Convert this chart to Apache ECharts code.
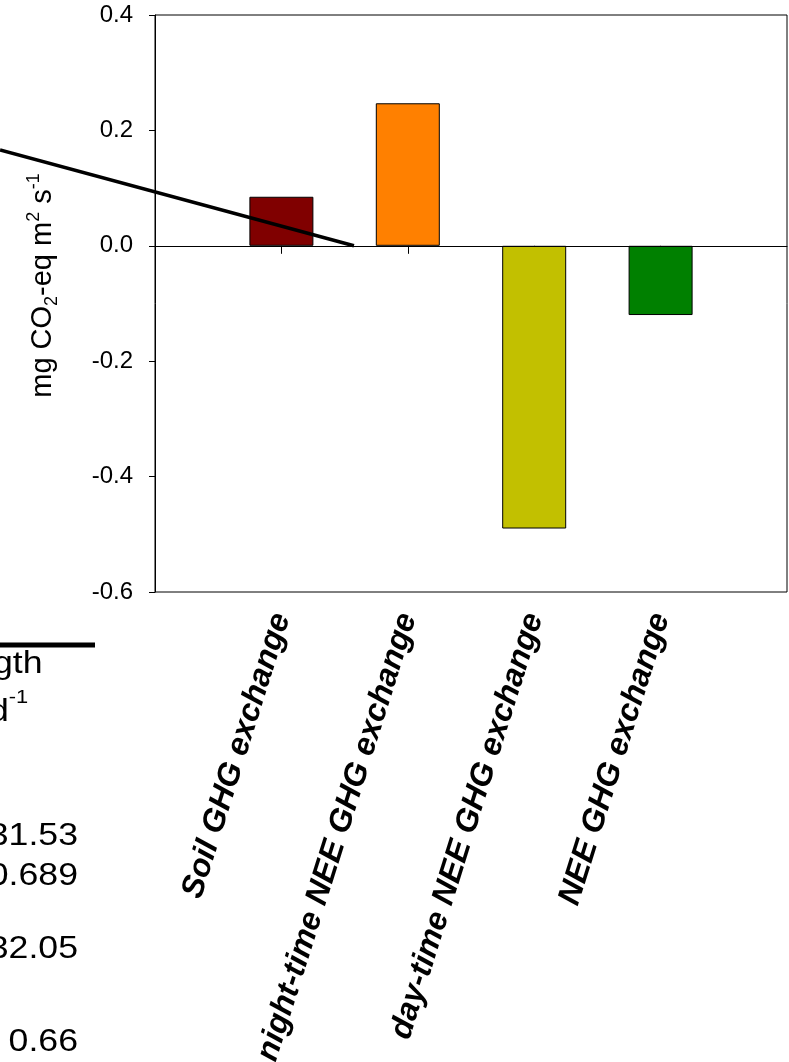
<!DOCTYPE html>
<html>
<head>
<meta charset="utf-8">
<script src="https://cdn.jsdelivr.net/npm/echarts@6/dist/echarts.min.js"></script>
<style>
  html, body { margin: 0; padding: 0; background: #fff; }
  #chart { width: 789px; height: 1062px; }
</style>
</head>
<body>
<div id="chart"></div>
<script>
// Flux components and their mean exchange (mg CO2-eq m-2 s-1)
const categories = ['Soil GHG exchange', 'night-time NEE GHG exchange', 'day-time NEE GHG exchange', 'NEE GHG exchange'];
const fluxValues = [0.085, 0.247, -0.49, -0.12];
const barColors = ['#800000', '#FF8000', '#C2C000', '#008000'];
const yTicks = [-0.6, -0.4, -0.2, 0.0, 0.2, 0.4];

// Leader line coming in from the neighbouring panel (axis units)
const leaderLine = [[-1.226, 0.166], [1.574, 0.0]];

// Fragments of the adjacent table
const tableHeader = ['gth', 'd'];
const tableCells = ['31.53', '0.689', '32.05', '0.66'];

const FONT = 'Liberation Sans, Arial, sans-serif';

const chart = echarts.init(document.getElementById('chart'), null, { renderer: 'canvas' });

const positions = categories.map((c, i) => i + 1);

function tableText(txt, y) {
  return {
    type: 'text', x: 78, y: y, scaleX: 1.15,
    style: { text: txt, font: '31px ' + FONT, fill: '#000', align: 'right', verticalAlign: 'top' }
  };
}

const option = {
  backgroundColor: '#fff',
  animation: false,
  grid: {
    left: 155, right: 2, top: 15, bottom: 470,
    outerBoundsMode: 'none',
    show: true, borderColor: '#000', borderWidth: 1, backgroundColor: 'transparent'
  },
  xAxis: {
    type: 'value', min: 0, max: 5, interval: 1,
    splitLine: { show: false },
    axisLine: { show: true, lineStyle: { color: '#000', width: 1 } },
    axisTick: { show: true, customValues: positions, length: 8, inside: false, lineStyle: { color: '#000' } },
    axisLabel: {
      customValues: positions,
      rotate: 72.5, margin: 22,
      fontFamily: FONT, fontSize: 32, fontWeight: 'bold', fontStyle: 'italic', color: '#000',
      formatter: v => categories[Math.round(v) - 1] || ''
    }
  },
  yAxis: {
    type: 'value', min: -0.6, max: 0.4, interval: 0.2,
    splitLine: { show: false },
    axisLine: { show: true, onZero: false, lineStyle: { color: '#000', width: 1 } },
    axisTick: { show: true, length: 6, inside: false, lineStyle: { color: '#000' } },
    axisLabel: {
      margin: 22, fontFamily: FONT, fontSize: 24, color: '#000',
      formatter: v => v.toFixed(1)
    },
    name: '{b|mg CO}{sub|2}{b|-eq m}{sup|2}{b| s}{sup|-1}',
    nameLocation: 'middle', nameGap: 94,
    nameTextStyle: {
      fontFamily: FONT, color: '#000', padding: [0, 0, 0, 36],
      rich: {
        b: { fontFamily: FONT, fontSize: 29, color: '#000', lineHeight: 36, verticalAlign: 'middle' },
        sub: { fontFamily: FONT, fontSize: 18, color: '#000', lineHeight: 36, verticalAlign: 'bottom', padding: [13, 0, 0, 0] },
        sup: { fontFamily: FONT, fontSize: 18, color: '#000', lineHeight: 36, verticalAlign: 'top', padding: [0, 0, 11, 0] }
      }
    }
  },
  series: [
    {
      type: 'bar',
      barWidth: 64,
      data: fluxValues.map((v, i) => ({
        value: [positions[i], v],
        itemStyle: { color: barColors[i], borderColor: '#000', borderWidth: 1 }
      })),
      markLine: {
        silent: true, symbol: 'none', label: { show: false },
        lineStyle: { color: '#000', width: 1, type: 'solid' },
        data: [{ yAxis: 0 }]
      },
      z: 2
    },
    {
      // leader line, allowed to run past the plot frame
      type: 'custom',
      clip: false,
      data: [leaderLine[0].concat(leaderLine[1])],
      renderItem: function (params, api) {
        const p0 = api.coord([api.value(0), api.value(1)]);
        const p1 = api.coord([api.value(2), api.value(3)]);
        return {
          type: 'line',
          shape: { x1: p0[0], y1: p0[1], x2: p1[0], y2: p1[1] },
          style: { stroke: '#000', lineWidth: 3.5 }
        };
      },
      z: 5
    }
  ],
  graphic: [
    { type: 'line', shape: { x1: 0, y1: 645, x2: 95, y2: 645 }, style: { stroke: '#000', lineWidth: 5 } },
    { type: 'text', x: -7, y: 649, scaleX: 1.15,
      style: { text: tableHeader[0], font: '31px ' + FONT, fill: '#000', verticalAlign: 'top' } },
    { type: 'text', x: -11, y: 688, scaleX: 1.15,
      style: { text: '{a|' + tableHeader[1] + '}{s|-1}', fill: '#000', verticalAlign: 'top',
        rich: { a: { font: '31px ' + FONT, lineHeight: 40, verticalAlign: 'bottom' },
                s: { font: '19px ' + FONT, lineHeight: 40, verticalAlign: 'top' } } } },
    tableText(tableCells[0], 821),
    tableText(tableCells[1], 861),
    tableText(tableCells[2], 934),
    tableText(tableCells[3], 1027)
  ]
};

chart.setOption(option);
</script>
</body>
</html>
